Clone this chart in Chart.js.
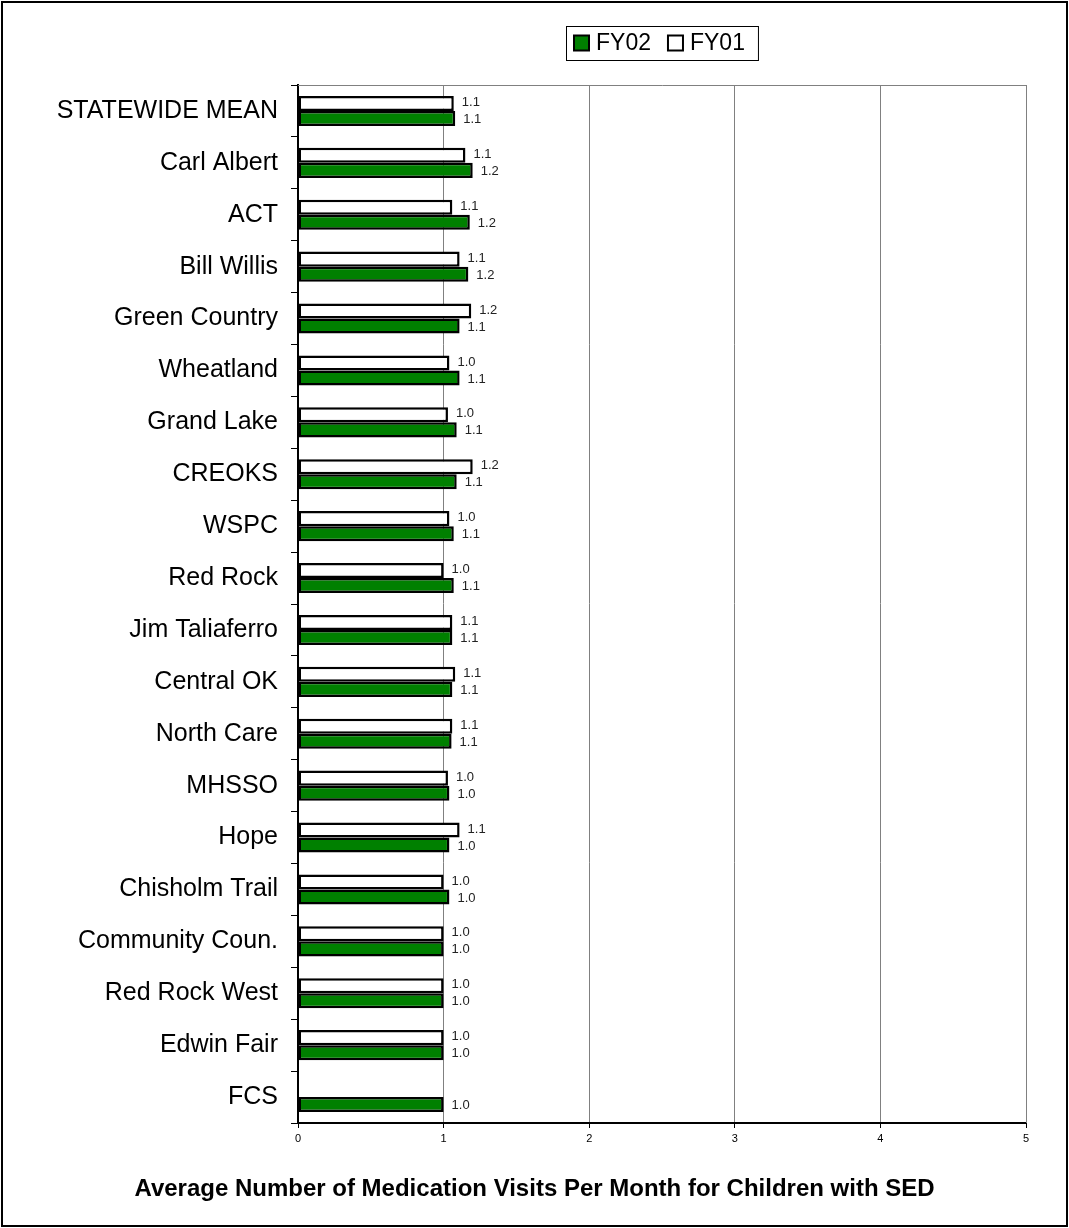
<!DOCTYPE html>
<html>
<head>
<meta charset="utf-8">
<script src="https://cdn.jsdelivr.net/npm/chart.js@4/dist/chart.umd.min.js"></script>
<style>
  html, body { margin: 0; padding: 0; background: #fff; }
  #wrap { position: relative; width: 1069px; height: 1228px; }
  #frame { position: absolute; left: 1px; top: 1px; width: 1063px; height: 1222px; border: 2px solid #000; pointer-events: none; }
</style>
</head>
<body>
<div id="wrap">
  <canvas id="grafico" width="1069" height="1228"></canvas>
  <div id="frame"></div>
</div>
<script>
// Categorias y valores
const centros = ["STATEWIDE MEAN", "Carl Albert", "ACT", "Bill Willis", "Green Country", "Wheatland",
  "Grand Lake", "CREOKS", "WSPC", "Red Rock", "Jim Taliaferro", "Central OK", "North Care",
  "MHSSO", "Hope", "Chisholm Trail", "Community Coun.", "Red Rock West", "Edwin Fair", "FCS"];

const fy01 = [1.07, 1.15, 1.06, 1.11, 1.19, 1.04, 1.03, 1.20, 1.04, 1.00, 1.06, 1.08, 1.06,
  1.03, 1.11, 1.00, 1.00, 1.00, 1.00, null];

const fy02 = [1.08, 1.20, 1.18, 1.17, 1.11, 1.11, 1.09, 1.09, 1.07, 1.07, 1.06, 1.06, 1.055,
  1.04, 1.04, 1.04, 1.00, 1.00, 1.00, 1.00];

const ticksX = [0, 1, 2, 3, 4, 5];

const titulo = "Average Number of Medication Visits Per Month for Children with SED";

const fuente = "'Liberation Sans', Arial, sans-serif";

// Etiquetas de valor junto a cada barra
const etiquetas = {
  id: "etiquetas",
  afterDatasetsDraw(chart) {
    const ctx = chart.ctx;
    ctx.save();
    ctx.font = "13px " + fuente;
    ctx.fillStyle = "#222";
    ctx.textBaseline = "middle";
    chart.data.datasets.forEach((ds, i) => {
      const meta = chart.getDatasetMeta(i);
      meta.data.forEach((bar, j) => {
        const v = ds.data[j];
        if (v === null || v === undefined) return;
        const dy = i === 0 ? -1 : 1;
        ctx.fillText(v.toFixed(1), bar.x + 8, bar.y + dy);
      });
    });
    ctx.restore();
  }
};

// Borde superior y derecho del area, leyenda con recuadro y titulo centrado en el lienzo
const marco = {
  id: "marco",
  afterDraw(chart) {
    const ctx = chart.ctx;
    const a = chart.chartArea;
    ctx.save();
    ctx.strokeStyle = "#808080";
    ctx.lineWidth = 1;
    ctx.beginPath();
    ctx.moveTo(a.left, a.top + 0.5);
    ctx.lineTo(a.right + 0.5, a.top + 0.5);
    ctx.lineTo(a.right + 0.5, a.bottom);
    ctx.stroke();

    // leyenda: FY02 primero, luego FY01
    const items = [
      { texto: "FY02", color: "#008000" },
      { texto: "FY01", color: "#ffffff" }
    ];
    ctx.font = "23px " + fuente;
    const caja = 15, sep = 7, gap = 17, padL = 8, padR = 13;
    let ancho = 0;
    items.forEach((it, k) => {
      it.w = ctx.measureText(it.texto).width;
      ancho += caja + sep + it.w + (k < items.length - 1 ? gap : 0);
    });
    const total = ancho + padL + padR;
    const cx = (a.left + a.right) / 2;
    const x0 = Math.round(cx - total / 2);
    let x = x0 + padL;
    const yTop = 26, alto = 34, yMid = yTop + alto / 2;
    ctx.strokeStyle = "#000";
    ctx.lineWidth = 1;
    ctx.strokeRect(x0 + 0.5, yTop + 0.5, total, alto);
    items.forEach((it) => {
      ctx.fillStyle = it.color;
      ctx.fillRect(x, yMid - caja / 2, caja, caja);
      ctx.lineWidth = 2;
      ctx.strokeRect(x, yMid - caja / 2, caja, caja);
      ctx.fillStyle = "#000";
      ctx.textBaseline = "middle";
      ctx.fillText(it.texto, x + caja + sep, yMid + 1);
      x += caja + sep + it.w + gap;
    });

    // titulo inferior
    ctx.font = "bold 24px " + fuente;
    ctx.fillStyle = "#000";
    ctx.textAlign = "center";
    ctx.textBaseline = "middle";
    ctx.fillText(titulo, chart.width / 2, 1189);
    ctx.restore();
  }
};

const ctx = document.getElementById("grafico").getContext("2d");

new Chart(ctx, {
  type: "bar",
  data: {
    labels: centros,
    datasets: [
      {
        label: "FY01",
        data: fy01,
        backgroundColor: "#ffffff",
        borderColor: "#000000",
        borderWidth: 2.5,
        borderSkipped: false,
        categoryPercentage: 0.58,
        barPercentage: 1.0
      },
      {
        label: "FY02",
        data: fy02,
        backgroundColor: "#008000",
        borderColor: "#000000",
        borderWidth: 2.5,
        borderSkipped: false,
        categoryPercentage: 0.58,
        barPercentage: 1.0
      }
    ]
  },
  options: {
    indexAxis: "y",
    responsive: false,
    animation: false,
    layout: { padding: { top: 85, right: 43, bottom: 75, left: 0 } },
    plugins: {
      legend: { display: false },
      tooltip: { enabled: false },
      title: { display: false }
    },
    scales: {
      x: {
        min: 0,
        max: 5,
        afterBuildTicks(scale) {
          scale.ticks = ticksX.map(v => ({ value: v }));
        },
        afterFit(scale) { scale.height = 30; },
        grid: { color: "#808080", tickColor: "#000", tickLength: 5, lineWidth: 1 },
        border: { color: "#000", width: 2 },
        ticks: {
          color: "#000",
          padding: 4,
          font: { family: fuente, size: 11 },
          callback: v => String(v)
        }
      },
      y: {
        afterFit(scale) { scale.width = 298; },
        grid: { drawOnChartArea: false, color: "#000", tickLength: 7, offset: true },
        border: { color: "#000", width: 2 },
        ticks: {
          color: "#000",
          padding: 13,
          font: { family: fuente, size: 25 }
        }
      }
    }
  },
  plugins: [etiquetas, marco]
});
</script>
</body>
</html>
